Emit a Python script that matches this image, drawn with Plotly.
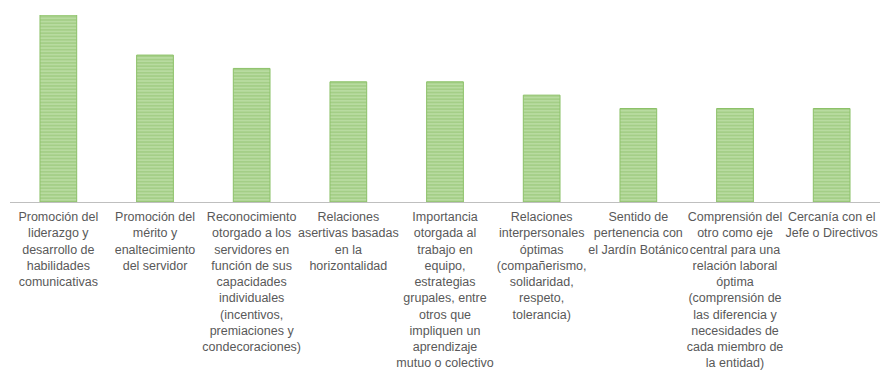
import plotly.graph_objects as go

categories = [
    "Promoción del<br>liderazgo y<br>desarrollo de<br>habilidades<br>comunicativas",
    "Promoción del<br>mérito y<br>enaltecimiento<br>del servidor",
    "Reconocimiento<br>otorgado a los<br>servidores en<br>función de sus<br>capacidades<br>individuales<br>(incentivos,<br>premiaciones y<br>condecoraciones)",
    "Relaciones<br>asertivas basadas<br>en la<br>horizontalidad",
    "Importancia<br>otorgada al<br>trabajo en<br>equipo,<br>estrategias<br>grupales, entre<br>otros que<br>impliquen un<br>aprendizaje<br>mutuo o colectivo",
    "Relaciones<br>interpersonales<br>óptimas<br>(compañerismo,<br>solidaridad,<br>respeto,<br>tolerancia)",
    "Sentido de<br>pertenencia con<br>el Jardín Botánico",
    "Comprensión del<br>otro como eje<br>central para una<br>relación laboral<br>óptima<br>(comprensión de<br>las diferencia y<br>necesidades de<br>cada miembro de<br>la entidad)",
    "Cercanía con el<br>Jefe o Directivos",
]
values = [14, 11, 10, 9, 9, 8, 7, 7, 7]

fig = go.Figure(
    go.Bar(
        x=list(range(len(categories))),
        y=values,
        marker=dict(
            color="#b3d89a",
            line=dict(color="#8cc168", width=1),
            pattern=dict(shape="-", fgcolor="#8bbf68", bgcolor="#b8dba0", size=3.3, solidity=0.45),
        ),
        width=0.38,
    )
)

fig.update_layout(
    width=883,
    height=372,
    margin=dict(l=10, r=3, t=15, b=170),
    plot_bgcolor="white",
    paper_bgcolor="white",
    showlegend=False,
    font=dict(family="Liberation Sans, Arial", size=13, color="#595959"),
)
fig.update_xaxes(
    tickmode="array",
    tickvals=list(range(len(categories))),
    ticktext=categories,
    range=[-0.5, len(categories) - 0.5],
    showline=True,
    linecolor="#bfbfbf",
    linewidth=1,
    showgrid=False,
    ticks="",
    tickangle=0,
    ticklabelstandoff=3,
    tickfont=dict(size=12.5, color="#595959"),
)
fig.update_yaxes(range=[0, 14], visible=False, showgrid=False, zeroline=False)

fig.write_html("out.html")
